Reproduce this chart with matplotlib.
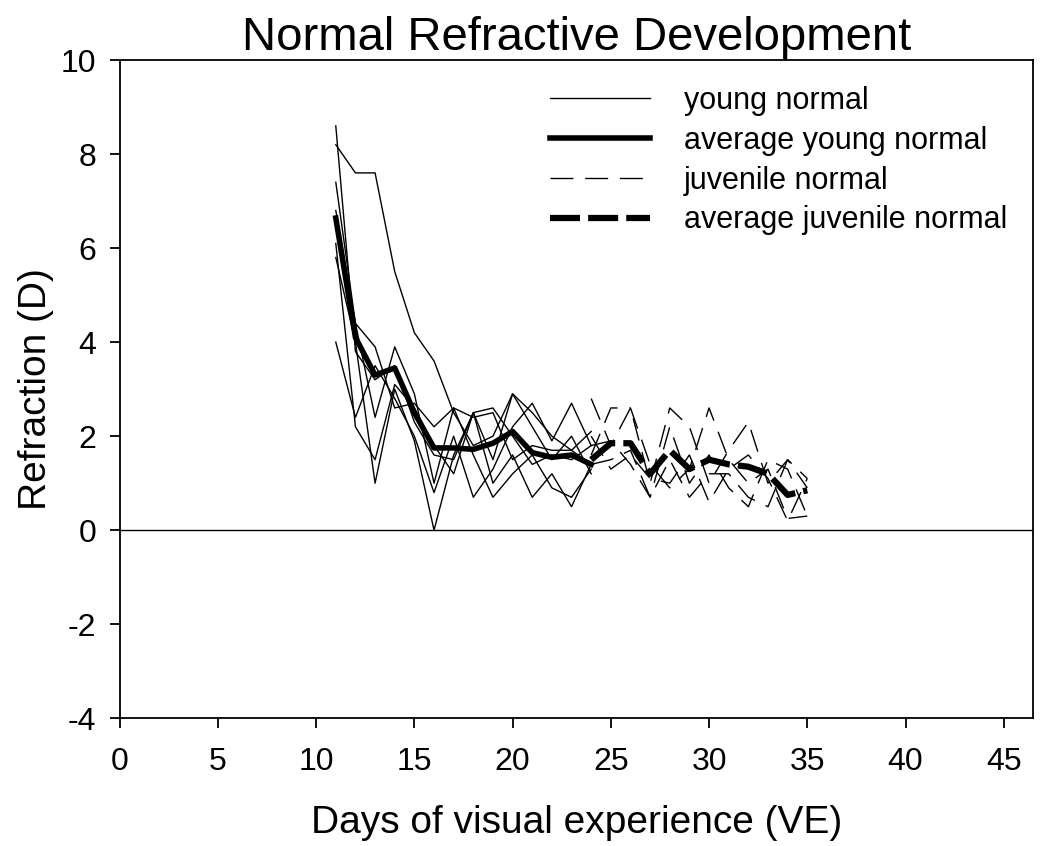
import numpy as np
import matplotlib.pyplot as plt

plt.rcParams['font.family'] = ['Liberation Sans', 'DejaVu Sans']
plt.rcParams['axes.unicode_minus'] = False

# days of visual experience
young_days = np.arange(11, 25)
juv_days = np.arange(24, 36)

# individual young normal animals (D)
young = [
    [8.6, 3.8, 3.2, 3.5, 2.3, 1.6, 1.5, 2.5, 2.6, 2.0, 1.4, 1.6, 1.5, 1.8],
    [8.2, 7.6, 7.6, 5.5, 4.2, 3.6, 2.5, 1.8, 2.0, 2.9, 2.5, 2.0, 1.7, 1.4],
    [7.4, 4.4, 2.4, 3.9, 2.9, 1.0, 2.6, 1.6, 0.7, 1.2, 1.6, 0.9, 0.7, 1.3],
    [5.8, 4.0, 1.0, 3.0, 1.9, 0.0, 1.6, 2.5, 1.0, 1.6, 0.7, 1.2, 0.5, 1.4],
    [4.0, 2.4, 3.5, 2.8, 2.0, 0.8, 2.0, 0.7, 1.3, 2.2, 2.7, 1.9, 2.7, 1.8],
    [6.8, 4.4, 3.9, 2.6, 2.7, 2.2, 2.6, 2.4, 2.5, 1.5, 1.8, 1.7, 1.7, 2.1],
    [6.1, 2.2, 1.5, 3.1, 2.6, 1.8, 1.2, 2.5, 1.5, 2.9, 2.2, 1.5, 2.0, 1.2],
]
avg_young = [6.64, 4.1, 3.3, 3.45, 2.5, 1.75, 1.75, 1.72, 1.85, 2.1, 1.65, 1.55, 1.6, 1.4]

# individual juvenile normal animals (D)
juvenile = [
    [2.8, 1.8, 2.6, 1.0, 2.6, 2.2, 1.0, 1.7, 2.3, 1.0, 1.5, 1.1],
    [1.6, 2.6, 2.6, 1.4, 0.9, 1.3, 2.6, 1.5, 1.0, 1.3, 0.25, 0.3],
    [1.4, 1.5, 1.7, 0.7, 1.5, 0.7, 1.2, 1.2, 0.7, 0.5, 1.5, 0.9],
    [2.0, 1.3, 1.6, 1.1, 1.0, 1.6, 0.6, 1.3, 1.6, 1.1, 0.2, 1.1],
    [1.8, 1.9, 1.4, 0.7, 2.2, 1.0, 1.6, 0.9, 0.5, 1.5, 1.3, 0.3],
]
avg_juv = [1.5, 1.85, 1.85, 1.2, 1.7, 1.3, 1.5, 1.4, 1.35, 1.2, 0.75, 0.85]

fig = plt.figure(figsize=(10.5, 8.46), dpi=100)
ax = fig.add_axes([0.114, 0.151, 0.87, 0.778])

for i, r in enumerate(young):
    ax.plot(young_days, r, color='black', lw=1.0,
            label='young normal' if i == 0 else None)
ax.plot(young_days, avg_young, color='black', lw=4,
        label='average young normal')
for i, r in enumerate(juvenile):
    ax.plot(juv_days, r, color='black', lw=1.0, dashes=(16.5, 8.5),
            label='juvenile normal' if i == 0 else None)
ax.plot(juv_days, avg_juv, color='black', lw=4.5, dashes=(4.8, 1.3),
        label='average juvenile normal')

ax.axhline(0, color='black', lw=1.0)

ax.set_xlim(0, 46.5)
ax.set_ylim(-4, 10)
ax.set_xticks(np.arange(0, 50, 5))
ax.set_yticks(np.arange(-4, 12, 2))
for s in ax.spines.values():
    s.set_linewidth(1.3)
ax.tick_params(labelsize=23, direction='out', length=7, width=1.3,
               top=False, right=False, pad=10)
ax.tick_params(axis='x', pad=14)
ax.set_xlabel('Days of visual experience (VE)', fontsize=28, labelpad=20)
ax.set_ylabel('Refraction (D)', fontsize=28, labelpad=5)
ax.set_title('Normal Refractive Development', fontsize=34, pad=6)

ax.legend(loc='upper right', frameon=False, fontsize=22, handlelength=3.3,
          handletextpad=1.1, labelspacing=0.32, borderaxespad=0.45)

fig.savefig('out.png', dpi=100)
